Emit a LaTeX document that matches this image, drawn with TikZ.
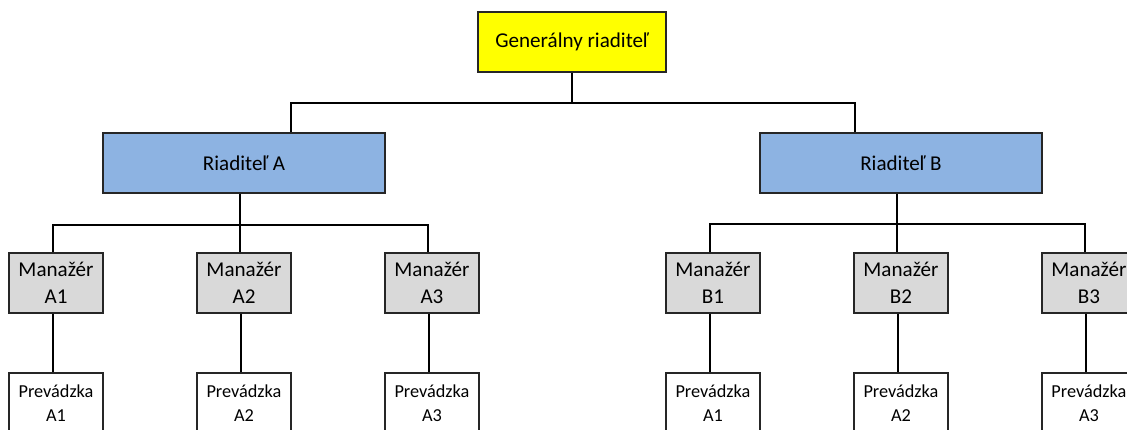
\documentclass[tikz,border=0pt]{standalone}
\usepackage{fontspec}
\setmainfont{Carlito}
\usepackage{tikz}
\usetikzlibrary{positioning}
\definecolor{chiefyellow}{HTML}{FFFF00}
\definecolor{dirblue}{HTML}{8DB3E2}
\definecolor{mgrgray}{HTML}{D9D9D9}

\begin{document}
\begin{tikzpicture}[node distance=1.5cm]
    \tikzstyle{chiefblock} = [rectangle, draw=black!85, line width=0.9pt, fill=chiefyellow, minimum width=4.7cm, minimum height=1.5cm, font=\fontsize{15}{18}\selectfont]
    \tikzstyle{dirblock} = [rectangle, draw=black!85, line width=0.9pt, fill=dirblue, minimum width=7.05cm, minimum height=1.5cm, font=\fontsize{15}{18}\selectfont]
    \tikzstyle{mgrblock} = [rectangle, draw=black!85, line width=0.9pt, fill=mgrgray, minimum width=2.35cm, minimum height=1.5cm, inner sep=0pt, align=center, font=\fontsize{15}{19.5}\selectfont]
    \tikzstyle{opblock} = [rectangle, draw=black!85, line width=0.9pt, fill=white, minimum width=2.35cm, minimum height=1.5cm, inner sep=0pt, align=center, font=\fontsize{13}{17}\selectfont]
    \tikzstyle{conn} = [line width=1.4pt, black]

    \useasboundingbox (0,0) rectangle (28.175,-10.725);

    \node [chiefblock] (chief) at (14.3,-1.05) {Generálny riaditeľ};
    \node [dirblock] (dirA) at (6.1,-4.075) {Riaditeľ A};
    \node [dirblock] (dirB) at (22.525,-4.075) {Riaditeľ B};

    % managers
    \node [mgrblock] (mgrA1) at (1.4,-7.075) {Manažér\\A1};
    \node [mgrblock, right=2.318cm of mgrA1] (mgrA2) {Manažér\\A2};
    \node [mgrblock, right=2.318cm of mgrA2] (mgrA3) {Manažér\\A3};
    \node [mgrblock, right=4.643cm of mgrA3] (mgrB1) {Manažér\\B1};
    \node [mgrblock, right=2.318cm of mgrB1] (mgrB2) {Manažér\\B2};
    \node [mgrblock, right=2.318cm of mgrB2] (mgrB3) {Manažér\\B3};

    % operations
    \node [opblock, below=1.468cm of mgrA1] (opA1) {Prevádzka\\A1};
    \node [opblock, below=1.468cm of mgrA2] (opA2) {Prevádzka\\A2};
    \node [opblock, below=1.468cm of mgrA3] (opA3) {Prevádzka\\A3};
    \node [opblock, below=1.468cm of mgrB1] (opB1) {Prevádzka\\A1};
    \node [opblock, below=1.468cm of mgrB2] (opB2) {Prevádzka\\A2};
    \node [opblock, below=1.468cm of mgrB3] (opB3) {Prevádzka\\A3};

    % connectors
    \draw [conn] (chief.south) -- ++(0,-0.75) coordinate (jchief);
    \draw [conn] ([xshift=1.175cm]dirA.north) |- (jchief) -| ([xshift=-1.15cm]dirB.north);

    \draw [conn] ([xshift=-0.1cm]dirA.south) -- ++(0,-0.775) coordinate (jA);
    \draw [conn] ([xshift=-0.075cm]mgrA1.north) |- (jA) -| ([xshift=-0.1cm]mgrA3.north);
    \draw [conn] (jA) -- (jA |- mgrA2.north);

    \draw [conn] ([xshift=-0.1cm]dirB.south) -- ++(0,-0.75) coordinate (jB);
    \draw [conn] ([xshift=-0.075cm]mgrB1.north) |- (jB) -| ([xshift=-0.1cm]mgrB3.north);
    \draw [conn] (jB) -- (jB |- mgrB2.north);

    \foreach \i in {A1,A2,A3,B1,B2,B3}
        \draw [conn] ([xshift=-0.075cm]mgr\i.south) -- ([xshift=-0.075cm]op\i.north);
\end{tikzpicture}
\end{document}
